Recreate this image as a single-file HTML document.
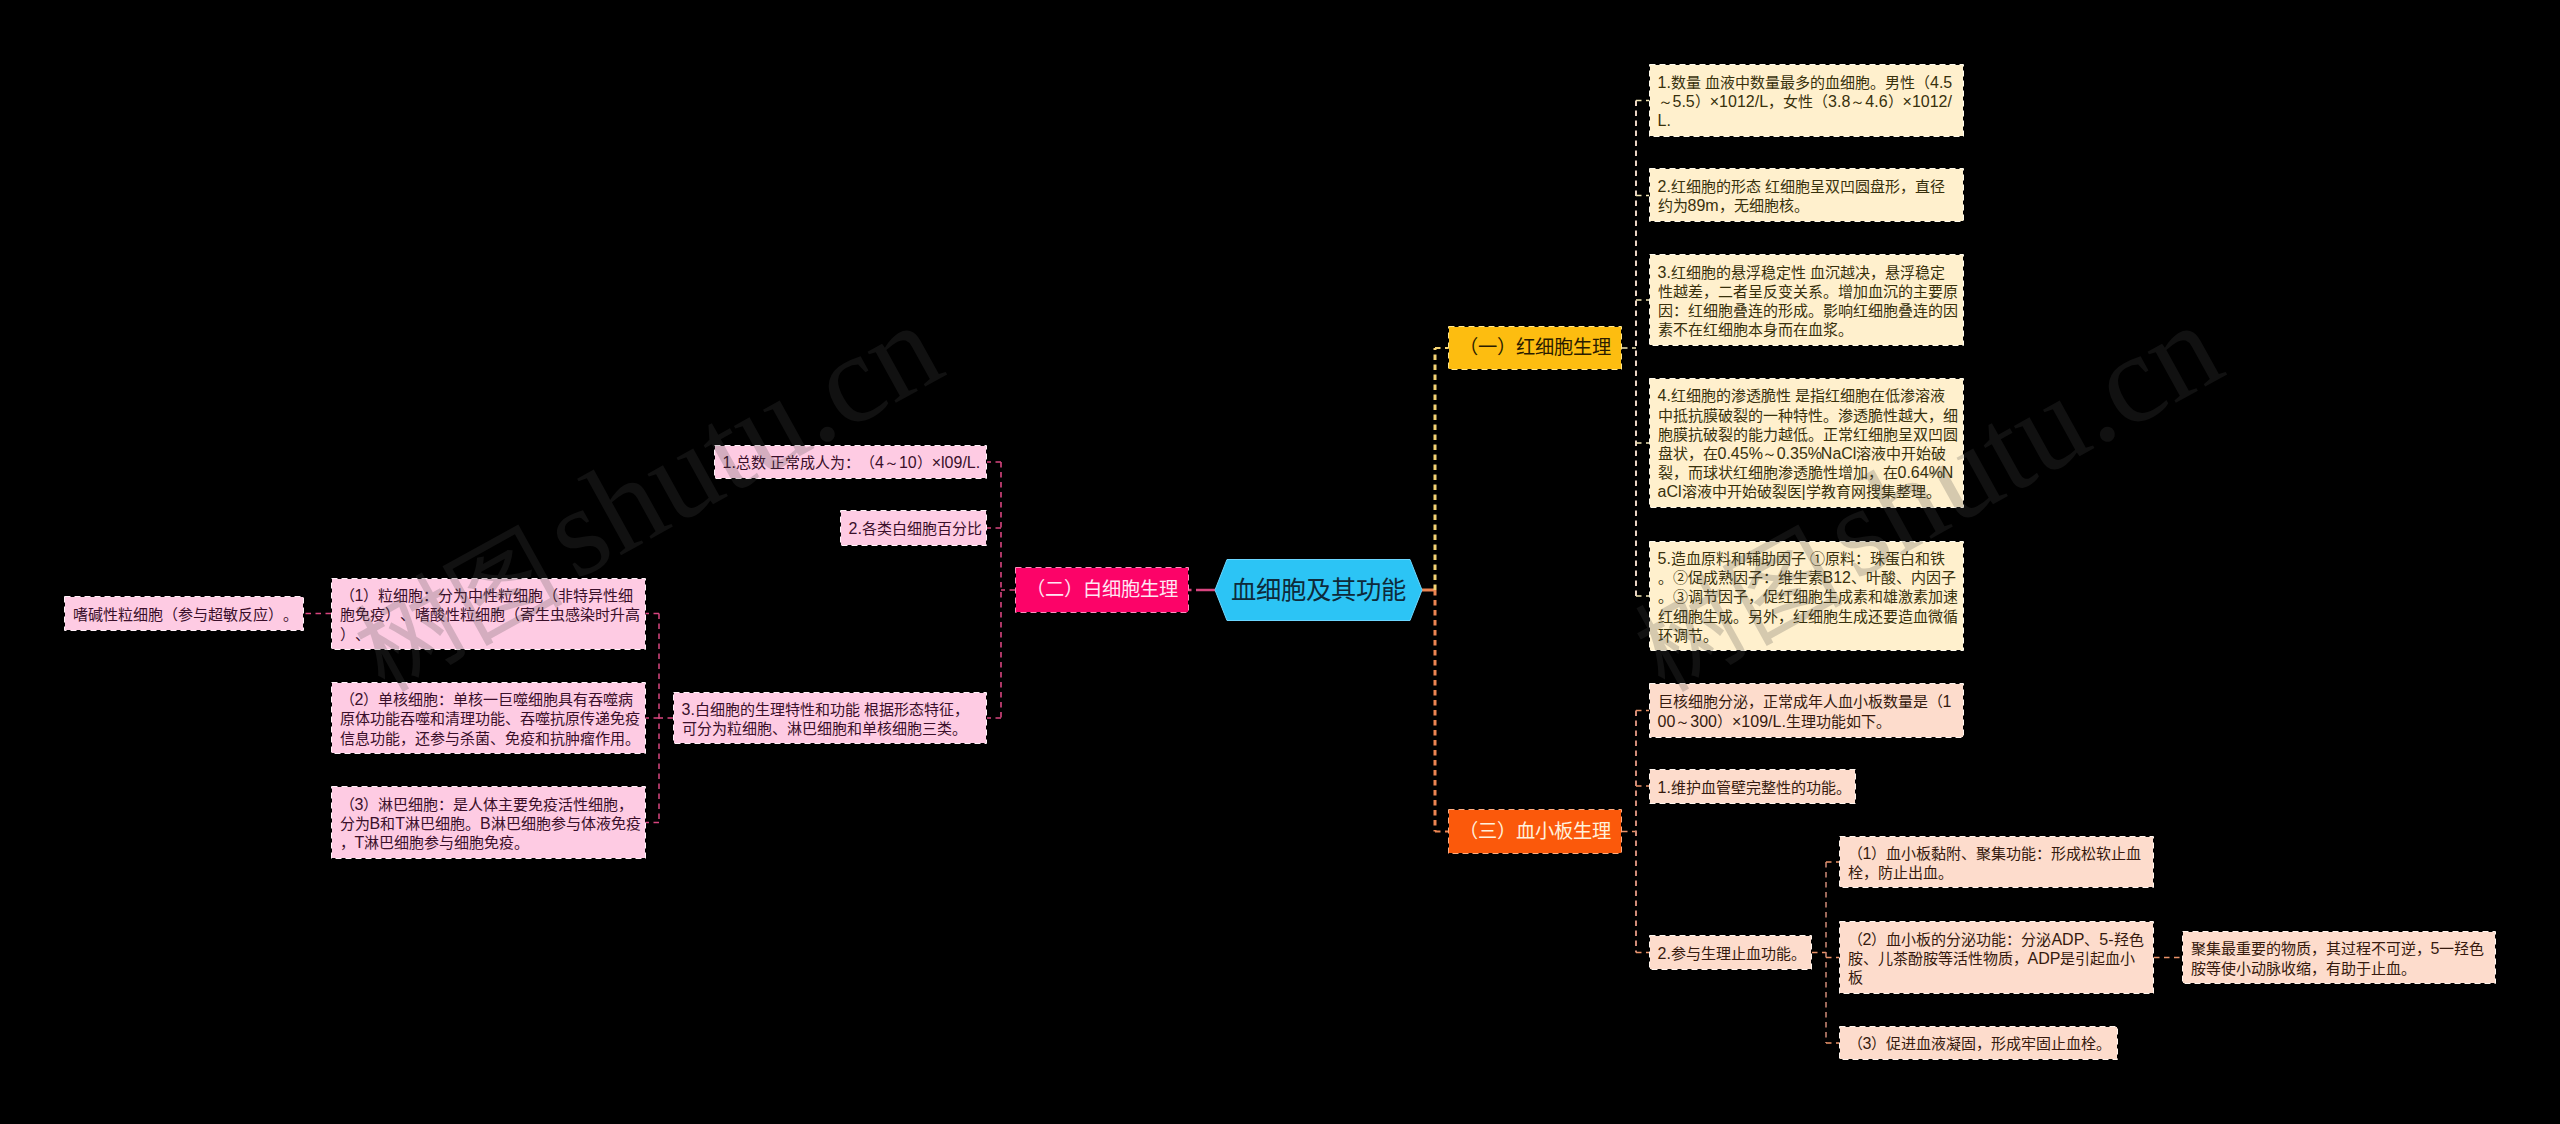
<!DOCTYPE html>
<html lang="zh-CN"><head><meta charset="utf-8"><title>血细胞及其功能</title>
<style>
html,body{margin:0;padding:0;width:2560px;height:1124px;overflow:hidden;background:#000;}
body{position:relative;font-family:"Liberation Sans",sans-serif;text-spacing-trim:space-all;}
svg{position:absolute;left:0;top:0;}
.t{position:absolute;font-size:15px;line-height:19.2px;white-space:nowrap;font-weight:500;}
.t .l{font-size:16px;}
.t .p{letter-spacing:-1.2px;}
.bt{position:absolute;font-size:19.25px;line-height:24px;white-space:nowrap;text-align:center;}
.c{position:absolute;left:1215px;top:559px;width:207px;height:62px;font-size:25.3px;line-height:62px;text-align:center;color:#0e2a3a;white-space:nowrap;}
.wm{position:absolute;font-family:"Liberation Serif",serif;font-size:127px;color:rgba(85,85,85,0.2);white-space:nowrap;transform-origin:0 0;line-height:1;}
</style></head><body>
<svg width="2560" height="1124" viewBox="0 0 2560 1124">
<path d="M1215 590 H1188" stroke="#d8457f" stroke-width="2.5" fill="none" stroke-dasharray="19 4.5 6"/>
<path d="M1015 590 H1001" stroke="#d8457f" stroke-width="1.5" fill="none" stroke-dasharray="5.5 4.5"/>
<path d="M1001 462 V718" stroke="#d8457f" stroke-width="1.6" fill="none" stroke-dasharray="5.5 4.5"/>
<path d="M1001 462 H987 M1001 528 H987 M1001 718 H987" stroke="#d8457f" stroke-width="1.5" fill="none" stroke-dasharray="5.5 4.5"/>
<path d="M673 718 H659" stroke="#d8457f" stroke-width="1.5" fill="none" stroke-dasharray="5.5 4.5"/>
<path d="M659 613.5 V822.5" stroke="#d8457f" stroke-width="1.5" fill="none" stroke-dasharray="5.5 4.5"/>
<path d="M659 613.5 H645.5 M659 718 H645.5 M659 822.5 H645.5" stroke="#d8457f" stroke-width="1.5" fill="none" stroke-dasharray="5.5 4.5"/>
<path d="M331 613.5 H303.5" stroke="#d8457f" stroke-width="1.5" fill="none" stroke-dasharray="5.5 4.5"/>
<path d="M1422 590 H1435" stroke="#ec8552" stroke-width="3" fill="none"/>
<path d="M1435 590 V348" stroke="#f5d474" stroke-width="3" fill="none" stroke-dasharray="5.5 4.5"/>
<path d="M1435 348 H1448.5" stroke="#f5d474" stroke-width="2" fill="none" stroke-dasharray="5.5 4.5"/>
<path d="M1435 590 V831.5" stroke="#ec8552" stroke-width="3" fill="none" stroke-dasharray="5.5 4.5"/>
<path d="M1435 831.5 H1448.5" stroke="#ec8552" stroke-width="2" fill="none" stroke-dasharray="5.5 4.5"/>
<path d="M1622 348 H1636" stroke="#f2e6b4" stroke-width="1.5" fill="none" stroke-dasharray="5.5 4.5"/>
<path d="M1636 100.5 V596" stroke="#e9d3c3" stroke-width="2" fill="none" stroke-dasharray="5.5 4.5"/>
<path d="M1636 100.5 H1649" stroke="#f2e6b4" stroke-width="1.5" fill="none" stroke-dasharray="5.5 4.5"/>
<path d="M1636 195.5 H1649" stroke="#f2e6b4" stroke-width="1.5" fill="none" stroke-dasharray="5.5 4.5"/>
<path d="M1636 300 H1649" stroke="#f2e6b4" stroke-width="1.5" fill="none" stroke-dasharray="5.5 4.5"/>
<path d="M1636 443 H1649" stroke="#f2e6b4" stroke-width="1.5" fill="none" stroke-dasharray="5.5 4.5"/>
<path d="M1636 596 H1649" stroke="#f2e6b4" stroke-width="1.5" fill="none" stroke-dasharray="5.5 4.5"/>
<path d="M1622 831.5 H1636" stroke="#ea9268" stroke-width="1.5" fill="none" stroke-dasharray="5.5 4.5"/>
<path d="M1636 710.5 V952.5" stroke="#d08c78" stroke-width="2" fill="none" stroke-dasharray="5.5 4.5"/>
<path d="M1636 710.5 H1649" stroke="#ea9268" stroke-width="1.5" fill="none" stroke-dasharray="5.5 4.5"/>
<path d="M1636 786 H1649" stroke="#ea9268" stroke-width="1.5" fill="none" stroke-dasharray="5.5 4.5"/>
<path d="M1636 952.5 H1649" stroke="#ea9268" stroke-width="1.5" fill="none" stroke-dasharray="5.5 4.5"/>
<path d="M1812 952.5 H1826" stroke="#ea9268" stroke-width="1.5" fill="none" stroke-dasharray="5.5 4.5"/>
<path d="M1826 862 V1043" stroke="#d08c78" stroke-width="1.5" fill="none" stroke-dasharray="5.5 4.5"/>
<path d="M1826 862 H1839" stroke="#ea9268" stroke-width="1.5" fill="none" stroke-dasharray="5.5 4.5"/>
<path d="M1826 957.5 H1839" stroke="#ea9268" stroke-width="1.5" fill="none" stroke-dasharray="5.5 4.5"/>
<path d="M1826 1043 H1839" stroke="#ea9268" stroke-width="1.5" fill="none" stroke-dasharray="5.5 4.5"/>
<path d="M2154 957.5 H2181.5" stroke="#ea9268" stroke-width="1.5" fill="none" stroke-dasharray="5.5 4.5"/>
<path d="M1215 590 L1227 559.5 H1410 L1422 590 L1410 620.5 H1227 Z" fill="#2cc4f5" stroke="#6cd6ff" stroke-width="1" stroke-linejoin="round"/>
<rect x="1016" y="568" width="172" height="44" fill="#fc0368"/>
<rect x="1015.5" y="567.5" width="173" height="45" fill="none" stroke="#ff8cbd" stroke-width="1" stroke-dasharray="6 4"/>
<rect x="715" y="446" width="271" height="32" fill="#fecbe3"/>
<rect x="714.5" y="445.5" width="272" height="33" fill="none" stroke="#fff2f8" stroke-width="1" stroke-dasharray="6 4"/>
<rect x="841" y="511" width="145" height="34" fill="#fecbe3"/>
<rect x="840.5" y="510.5" width="146" height="35" fill="none" stroke="#fff2f8" stroke-width="1" stroke-dasharray="6 4"/>
<rect x="674" y="693" width="312" height="50" fill="#fecbe3"/>
<rect x="673.5" y="692.5" width="313" height="51" fill="none" stroke="#fff2f8" stroke-width="1" stroke-dasharray="6 4"/>
<rect x="332" y="579" width="313" height="70" fill="#fecbe3"/>
<rect x="331.5" y="578.5" width="314" height="71" fill="none" stroke="#fff2f8" stroke-width="1" stroke-dasharray="6 4"/>
<rect x="332" y="683" width="313" height="70" fill="#fecbe3"/>
<rect x="331.5" y="682.5" width="314" height="71" fill="none" stroke="#fff2f8" stroke-width="1" stroke-dasharray="6 4"/>
<rect x="332" y="787" width="313" height="71" fill="#fecbe3"/>
<rect x="331.5" y="786.5" width="314" height="72" fill="none" stroke="#fff2f8" stroke-width="1" stroke-dasharray="6 4"/>
<rect x="65" y="597" width="238" height="33" fill="#fecbe3"/>
<rect x="64.5" y="596.5" width="239" height="34" fill="none" stroke="#fff2f8" stroke-width="1" stroke-dasharray="6 4"/>
<rect x="1449" y="327" width="172" height="42" fill="#fdbd10"/>
<rect x="1448.5" y="326.5" width="173" height="43" fill="none" stroke="#ffe68a" stroke-width="1" stroke-dasharray="6 4"/>
<rect x="1650" y="65" width="313" height="71" fill="#fff0cd"/>
<rect x="1649.5" y="64.5" width="314" height="72" fill="none" stroke="#fffbec" stroke-width="1" stroke-dasharray="6 4"/>
<rect x="1650" y="169" width="313" height="52" fill="#fff0cd"/>
<rect x="1649.5" y="168.5" width="314" height="53" fill="none" stroke="#fffbec" stroke-width="1" stroke-dasharray="6 4"/>
<rect x="1650" y="255" width="313" height="90" fill="#fff0cd"/>
<rect x="1649.5" y="254.5" width="314" height="91" fill="none" stroke="#fffbec" stroke-width="1" stroke-dasharray="6 4"/>
<rect x="1650" y="379" width="313" height="128" fill="#fff0cd"/>
<rect x="1649.5" y="378.5" width="314" height="129" fill="none" stroke="#fffbec" stroke-width="1" stroke-dasharray="6 4"/>
<rect x="1650" y="542" width="313" height="108" fill="#fff0cd"/>
<rect x="1649.5" y="541.5" width="314" height="109" fill="none" stroke="#fffbec" stroke-width="1" stroke-dasharray="6 4"/>
<rect x="1449" y="810" width="172" height="43" fill="#fb590b"/>
<rect x="1448.5" y="809.5" width="173" height="44" fill="none" stroke="#ffab7e" stroke-width="1" stroke-dasharray="6 4"/>
<rect x="1650" y="684" width="313" height="53" fill="#fddccc"/>
<rect x="1649.5" y="683.5" width="314" height="54" fill="none" stroke="#fff5ee" stroke-width="1" stroke-dasharray="6 4"/>
<rect x="1650" y="770" width="205" height="33" fill="#fddccc"/>
<rect x="1649.5" y="769.5" width="206" height="34" fill="none" stroke="#fff5ee" stroke-width="1" stroke-dasharray="6 4"/>
<rect x="1650" y="936" width="161" height="33" fill="#fddccc"/>
<rect x="1649.5" y="935.5" width="162" height="34" fill="none" stroke="#fff5ee" stroke-width="1" stroke-dasharray="6 4"/>
<rect x="1840" y="837" width="313" height="50" fill="#fddccc"/>
<rect x="1839.5" y="836.5" width="314" height="51" fill="none" stroke="#fff5ee" stroke-width="1" stroke-dasharray="6 4"/>
<rect x="1840" y="922" width="313" height="71" fill="#fddccc"/>
<rect x="1839.5" y="921.5" width="314" height="72" fill="none" stroke="#fff5ee" stroke-width="1" stroke-dasharray="6 4"/>
<rect x="1840" y="1027" width="277" height="32" fill="#fddccc"/>
<rect x="1839.5" y="1026.5" width="278" height="33" fill="none" stroke="#fff5ee" stroke-width="1" stroke-dasharray="6 4"/>
<rect x="2183" y="932" width="312" height="51" fill="#fddccc"/>
<rect x="2182.5" y="931.5" width="313" height="52" fill="none" stroke="#fff5ee" stroke-width="1" stroke-dasharray="6 4"/>
</svg>
<div class="c">血细胞及其功能</div>
<div class="bt" style="left:1015px;width:174px;top:578.00px;color:#ffe6f3">（二）白细胞生理</div>
<div class="t" style="left:722.5px;top:453.40px;color:#3a0f2a"><span class="l">1.</span>总数 正常成人为：（<span class="l">4</span><span lang="ja">～</span><span class="l">10</span>）<span class="l">×l09/L.</span></div>
<div class="t" style="left:848.5px;top:519.40px;color:#3a0f2a"><span class="l">2.</span>各类白细胞百分比</div>
<div class="t" style="left:681.5px;top:699.80px;color:#3a0f2a"><span class="l">3.</span>白细胞的生理特性和功能 根据形态特征，<br>可分为粒细胞、淋巴细胞和单核细胞三类。</div>
<div class="t" style="left:339.5px;top:586.20px;color:#3a0f2a">（<span class="l">1</span>）粒细胞：分为中性粒细胞（非特异性细<br>胞免疫）、嗜酸性粒细胞（寄生虫感染时升高<br>）、</div>
<div class="t" style="left:339.5px;top:690.20px;color:#3a0f2a">（<span class="l">2</span>）单核细胞：单核一巨噬细胞具有吞噬病<br>原体功能吞噬和清理功能、吞噬抗原传递免疫<br>信息功能，还参与杀菌、免疫和抗肿瘤作用。</div>
<div class="t" style="left:339.5px;top:794.70px;color:#3a0f2a">（<span class="l">3</span>）淋巴细胞：是人体主要免疫活性细胞，<br>分为<span class="l">B</span>和<span class="l">T</span>淋巴细胞。<span class="l">B</span>淋巴细胞参与体液免疫<br>，<span class="l">T</span>淋巴细胞参与细胞免疫。</div>
<div class="t" style="left:72.5px;top:604.90px;color:#3a0f2a">嗜碱性粒细胞（参与超敏反应）。</div>
<div class="bt" style="left:1448px;width:174px;top:336.00px;color:#2a1c00">（一）红细胞生理</div>
<div class="t" style="left:1657.5px;top:72.70px;color:#38300c"><span class="l">1.</span>数量 血液中数量最多的血细胞。男性（<span class="l">4.5</span><br><span lang="ja">～</span><span class="l">5.5</span>）<span class="l">×1012/L</span>，女性（<span class="l">3.8</span><span lang="ja">～</span><span class="l">4.6</span>）<span class="l">×1012/</span><br><span class="l">L.</span></div>
<div class="t" style="left:1657.5px;top:176.80px;color:#38300c"><span class="l">2.</span>红细胞的形态 红细胞呈双凹圆盘形，直径<br>约为<span class="l">89m</span>，无细胞核。</div>
<div class="t" style="left:1657.5px;top:262.60px;color:#38300c"><span class="l">3.</span>红细胞的悬浮稳定性 血沉越决，悬浮稳定<br>性越差，二者呈反变关系。增加血沉的主要原<br>因：红细胞叠连的形成。影响红细胞叠连的因<br>素不在红细胞本身而在血浆。</div>
<div class="t" style="left:1657.5px;top:386.40px;color:#38300c"><span class="l">4.</span>红细胞的渗透脆性 是指红细胞在低渗溶液<br>中抵抗膜破裂的一种特性。渗透脆性越大，细<br>胞膜抗破裂的能力越低。正常红细胞呈双凹圆<br>盘状，在<span class="l">0.45<span class="p">%</span></span><span lang="ja">～</span><span class="l">0.35<span class="p">%</span>NaCl</span>溶液中开始破<br>裂，而球状红细胞渗透脆性增加，在<span class="l">0.64<span class="p">%</span>N</span><br><span class="l">aCl</span>溶液中开始破裂医<span class="l">|</span>学教育网搜集整理。</div>
<div class="t" style="left:1657.5px;top:549.00px;color:#38300c"><span class="l">5.</span>造血原料和辅助因子 ①原料：珠蛋白和铁<br>。②促成熟因子：维生素<span class="l">B12</span>、叶酸、内因子<br>。③调节因子，促红细胞生成素和雄激素加速<br>红细胞生成。另外，红细胞生成还要造血微循<br>环调节。</div>
<div class="bt" style="left:1448px;width:174px;top:819.50px;color:#fff1dc">（三）血小板生理</div>
<div class="t" style="left:1657.5px;top:692.30px;color:#361a0e">巨核细胞分泌，正常成年人血小板数量是（<span class="l">1</span><br><span class="l">00</span><span lang="ja">～</span><span class="l">300</span>）<span class="l">×109/L.</span>生理功能如下。</div>
<div class="t" style="left:1657.5px;top:777.90px;color:#361a0e"><span class="l">1.</span>维护血管壁完整性的功能。</div>
<div class="t" style="left:1657.5px;top:943.90px;color:#361a0e"><span class="l">2.</span>参与生理止血功能。</div>
<div class="t" style="left:1847.5px;top:843.80px;color:#361a0e">（<span class="l">1</span>）血小板黏附、聚集功能：形成松软止血<br>栓，防止出血。</div>
<div class="t" style="left:1847.5px;top:929.70px;color:#361a0e">（<span class="l">2</span>）血小板的分泌功能：分泌<span class="l">ADP</span>、<span class="l">5-</span>羟色<br>胺、儿茶酚胺等活性物质，<span class="l">ADP</span>是引起血小<br>板</div>
<div class="t" style="left:1847.5px;top:1034.40px;color:#361a0e">（<span class="l">3</span>）促进血液凝固，形成牢固止血栓。</div>
<div class="t" style="left:2190.5px;top:939.30px;color:#361a0e">聚集最重要的物质，其过程不可逆，<span class="l">5</span>一羟色<br>胺等使小动脉收缩，有助于止血。</div>
<svg width="2560" height="1124" viewBox="0 0 2560 1124" style="pointer-events:none">
<g transform="rotate(-29 575.5 580.5)" fill="rgba(72,72,72,0.23)" font-family="Liberation Serif, serif"><text x="575.5" y="580.5" font-size="127">shutu.cn</text><text x="561.5" y="586.5" font-size="104" text-anchor="end">树图</text></g><g transform="rotate(-29 1855.5 580.5)" fill="rgba(72,72,72,0.23)" font-family="Liberation Serif, serif"><text x="1855.5" y="580.5" font-size="127">shutu.cn</text><text x="1841.5" y="586.5" font-size="104" text-anchor="end">树图</text></g>
</svg>
</body></html>
